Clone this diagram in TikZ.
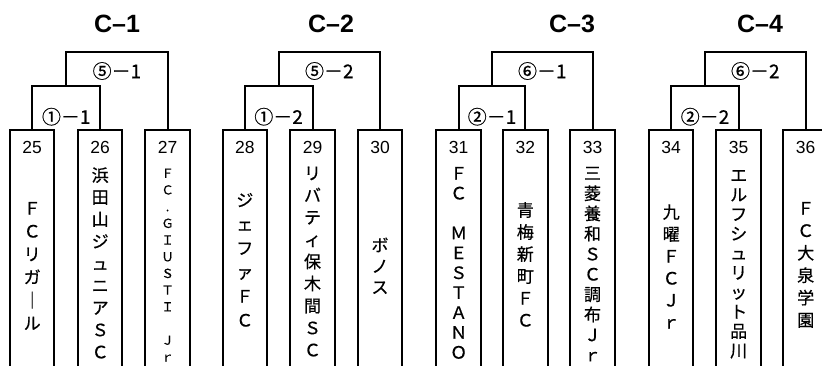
\documentclass[tikz,border=0pt]{standalone}
\usepackage{fontspec}
\setmainfont{Liberation Sans}
\newfontfamily\jp[FakeBold=0.6]{Noto Sans CJK JP}
\tikzset{
  teambox/.style={draw, line width=2pt, minimum width=44.5pt, minimum height=244pt, inner sep=0pt, outer sep=0pt},
  bracket/.style={draw, line width=2pt},
  title/.style={font=\bfseries\fontsize{25}{25}\selectfont, inner sep=0pt},
  num/.style={font=\fontsize{17.5}{17.5}\selectfont, inner sep=0pt},
  mlabel/.style={font=\jp\fontsize{19}{19}\selectfont, inner sep=0pt},
  vch/.style={font=\jp\fontsize{17}{17}\selectfont, inner sep=0pt, anchor=base, yshift=-6.5pt},
  vchs/.style={font=\jp\fontsize{12.5}{12.5}\selectfont, inner sep=0pt, anchor=base, yshift=-4.8pt},
}
\newcommand\teamcol[6]{\foreach \ch [count=\i from 0] in {#6}{\node[#5] (t#1-\i) at (#2,#3+\i*#4) {\ch};}}
\begin{document}
\begin{tikzpicture}[x=1pt,y=-1pt]
\clip (0,0) rectangle (822,365);
\fill[white] (0,0) rectangle (822,365);
% titles
\node[title] (c1) at (117,24) {C–1};
\node[title] (c2) at (331,24) {C–2};
\node[title] (c3) at (572,24) {C–3};
\node[title] (c4) at (760,24) {C–4};
% boxes
\node[teambox] (b25) at (32.2,252) {};
\node[teambox] (b26) at (100.2,252) {};
\node[teambox] (b27) at (167.6,252) {};
\node[teambox] (b28) at (244.8,252) {};
\node[teambox] (b29) at (312.5,252) {};
\node[teambox] (b30) at (380,252) {};
\node[teambox] (b31) at (458.7,252) {};
\node[teambox] (b32) at (525.3,252) {};
\node[teambox] (b33) at (592.5,252) {};
\node[teambox] (b34) at (671.2,252) {};
\node[teambox] (b35) at (738.7,252) {};
\node[teambox] (b36) at (805.7,252) {};
% brackets
\coordinate (i1) at (66.2,86.3);  \coordinate (o1) at (116.9,52.2);
\coordinate (i2) at (278.6,86.3); \coordinate (o2) at (329.3,52.2);
\coordinate (i3) at (492,86.3);   \coordinate (o3) at (542.3,52.2);
\coordinate (i4) at (705,86.3);   \coordinate (o4) at (755.3,52.2);
\draw[bracket] (b25.north) |- (i1) -| (b26.north);
\draw[bracket] (i1) |- (o1) -| (b27.north);
\draw[bracket] (b28.north) |- (i2) -| (b29.north);
\draw[bracket] (i2) |- (o2) -| (b30.north);
\draw[bracket] (b31.north) |- (i3) -| (b32.north);
\draw[bracket] (i3) |- (o3) -| (b33.north);
\draw[bracket] (b34.north) |- (i4) -| (b35.north);
\draw[bracket] (i4) |- (o4) -| (b36.north);
% match labels
\node[mlabel] (m11) at (66.2,116.7) {①－1};
\node[mlabel] (m51) at (116.9,71) {⑤－1};
\node[mlabel] (m12) at (278.6,116.7) {①－2};
\node[mlabel] (m52) at (329.3,71) {⑤－2};
\node[mlabel] (m21) at (492,116.7) {②－1};
\node[mlabel] (m61) at (542.3,71) {⑥－1};
\node[mlabel] (m22) at (705,116.7) {②－2};
\node[mlabel] (m62) at (755.3,71) {⑥－2};
% numbers
\node[num] (n25) at (32.2,147.5) {25};
\node[num] (n26) at (100.2,147.5) {26};
\node[num] (n27) at (167.6,147.5) {27};
\node[num] (n28) at (244.8,147.5) {28};
\node[num] (n29) at (312.5,147.5) {29};
\node[num] (n30) at (380,147.5) {30};
\node[num] (n31) at (458.7,147.5) {31};
\node[num] (n32) at (525.3,147.5) {32};
\node[num] (n33) at (592.5,147.5) {33};
\node[num] (n34) at (671.2,147.5) {34};
\node[num] (n35) at (738.7,147.5) {35};
\node[num] (n36) at (805.7,147.5) {36};
% team names
\teamcol{25}{32.2}{208}{23}{vch}{Ｆ,Ｃ,リ,ガ,｜,ル}
\teamcol{26}{100.2}{175}{22.1}{vch}{浜,田,山,ジ,ュ,ニ,ア,Ｓ,Ｃ}
\teamcol{27}{167.6}{173}{16.7}{vchs}{Ｆ,Ｃ,.,Ｇ,Ｉ,Ｕ,Ｓ,Ｔ,Ｉ,{},Ｊ,ｒ}
\teamcol{28}{244.8}{200}{24}{vch}{ジ,ェ,フ,ァ,Ｆ,Ｃ}
\teamcol{29}{312.5}{173}{22.1}{vch}{リ,バ,テ,ィ,保,木,間,Ｓ,Ｃ}
\teamcol{30}{380}{245}{21}{vch}{ボ,ノ,ス}
\teamcol{31}{458.7}{173}{19.9}{vch}{Ｆ,Ｃ,{},Ｍ,Ｅ,Ｓ,Ｔ,Ａ,Ｎ,Ｏ}
\teamcol{32}{525.3}{210}{22}{vch}{青,梅,新,町,Ｆ,Ｃ}
\teamcol{33}{592.5}{173}{20.2}{vch}{三,菱,養,和,Ｓ,Ｃ,調,布,Ｊ,ｒ}
\teamcol{34}{671.2}{212}{22}{vch}{九,曜,Ｆ,Ｃ,Ｊ,ｒ}
\teamcol{35}{738.7}{175}{19.5}{vch}{エ,ル,フ,シ,ュ,リ,ッ,ト,品,川}
\teamcol{36}{805.7}{208}{22.4}{vch}{Ｆ,Ｃ,大,泉,学,園}
\end{tikzpicture}
\end{document}
